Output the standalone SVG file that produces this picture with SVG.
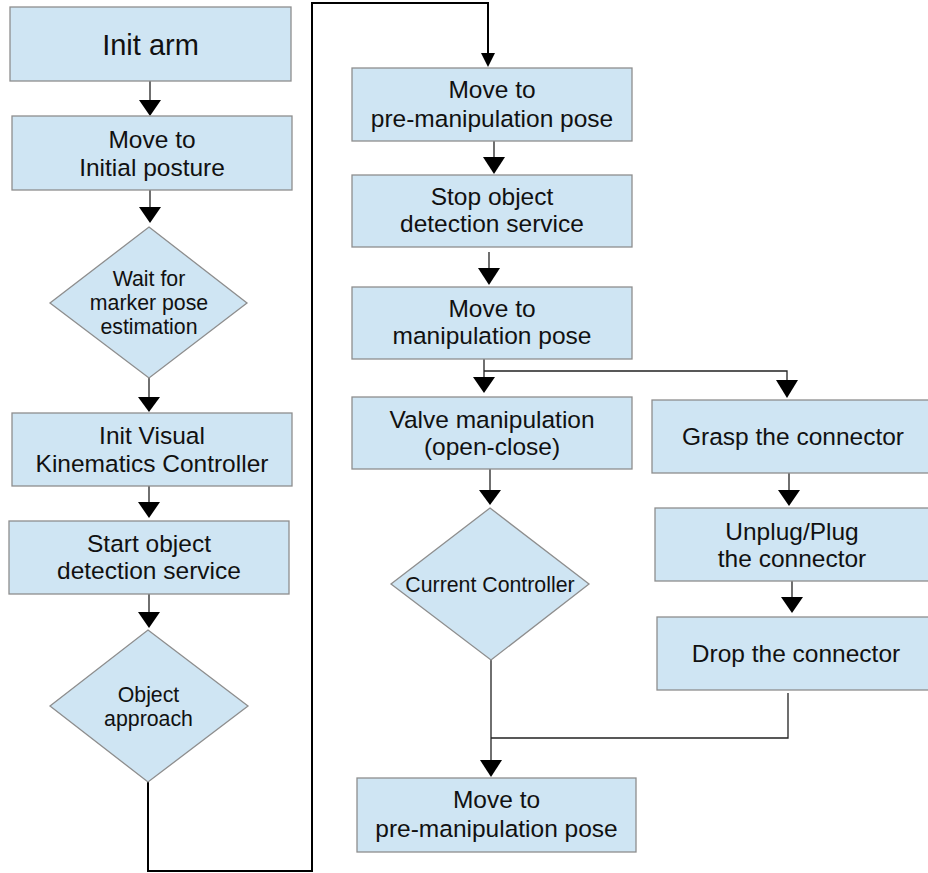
<svg xmlns="http://www.w3.org/2000/svg" width="928" height="873" viewBox="0 0 928 873">
<defs>
<style>
.box{fill:#cfe5f3;stroke:#8e8e8e;stroke-width:1.3}
.t{font-family:"Liberation Sans",Arial,sans-serif;font-size:24.5px;fill:#111;text-anchor:middle}
.d{font-family:"Liberation Sans",Arial,sans-serif;font-size:21.3px;fill:#111;text-anchor:middle}
.big{font-size:29px}
.ln{fill:none;stroke:#222;stroke-width:1.3}
.loop{fill:none;stroke:#000;stroke-width:2}
.ah{fill:#000}
</style>
</defs>
<rect width="928" height="873" fill="#fff"/>

<g id="connectors">
<!-- left column -->
<line class="ln" x1="150" y1="81" x2="150" y2="101"/>
<polygon class="ah" points="139,100 161,100 150,116"/>
<line class="ln" x1="150" y1="190" x2="150" y2="208"/>
<polygon class="ah" points="139,207 161,207 150,223"/>
<line class="ln" x1="149" y1="378" x2="149" y2="398"/>
<polygon class="ah" points="138,397 160,397 149,412"/>
<line class="ln" x1="149" y1="486" x2="149" y2="503"/>
<polygon class="ah" points="138,502 160,502 149,518"/>
<line class="ln" x1="149" y1="594" x2="149" y2="613"/>
<polygon class="ah" points="138,612 160,612 149,628"/>
<!-- loop -->
<polyline class="loop" points="148,782 148,871 312,871 312,3 488,3 488,54"/>
<polygon class="ah" points="481,53 495,53 488,67"/>
<!-- right column -->
<line class="ln" x1="494" y1="141" x2="494" y2="158"/>
<polygon class="ah" points="483,157 505,157 494,174"/>
<line class="ln" x1="489" y1="252" x2="489" y2="269"/>
<polygon class="ah" points="478,268 500,268 489,285"/>
<polyline class="ln" points="484,359 484,378"/>
<polygon class="ah" points="473,377 495,377 484,393"/>
<polyline class="ln" points="484,371 787,371 787,381"/>
<polygon class="ah" points="776,380 798,380 787,398"/>
<line class="ln" x1="490" y1="469" x2="490" y2="491"/>
<polygon class="ah" points="479,490 501,490 490,505"/>
<line class="ln" x1="789" y1="473" x2="789" y2="491"/>
<polygon class="ah" points="778,490 800,490 789,506"/>
<line class="ln" x1="792" y1="581" x2="792" y2="598"/>
<polygon class="ah" points="781,597 803,597 792,613"/>
<polyline class="ln" points="788,693 788,738 491,738"/>
<line class="ln" x1="491" y1="660" x2="491" y2="761"/>
<polygon class="ah" points="480,760 502,760 491,777"/>
</g>

<g id="n-init-arm">
<rect class="box" x="10" y="7" width="281" height="74"/>
<text class="t big" x="150.5" y="55">Init arm</text>
</g>
<g id="n-initial-posture">
<rect class="box" x="12" y="116" width="280" height="74"/>
<text class="t" x="152" y="148">Move to</text>
<text class="t" x="152" y="176">Initial posture</text>
</g>
<g id="n-wait-marker">
<polygon class="box" points="149,227 247,303 149,378 50,303"/>
<text class="d" x="149" y="286">Wait for</text>
<text class="d" x="149" y="310">marker pose</text>
<text class="d" x="149" y="334">estimation</text>
</g>
<g id="n-init-visual">
<rect class="box" x="12" y="413" width="280" height="73"/>
<text class="t" x="152" y="444">Init Visual</text>
<text class="t" x="152" y="472">Kinematics Controller</text>
</g>
<g id="n-start-detection">
<rect class="box" x="9" y="521" width="280" height="73"/>
<text class="t" x="149" y="552">Start object</text>
<text class="t" x="149" y="579">detection service</text>
</g>
<g id="n-object-approach">
<polygon class="box" points="148,630 248,706 148,782 50,706"/>
<text class="d" x="148.5" y="702">Object</text>
<text class="d" x="148.5" y="726">approach</text>
</g>

<g id="n-pre-manip-1">
<rect class="box" x="352" y="68" width="280" height="73"/>
<text class="t" x="492" y="98">Move to</text>
<text class="t" x="492" y="127">pre-manipulation pose</text>
</g>
<g id="n-stop-detection">
<rect class="box" x="352" y="175" width="280" height="72"/>
<text class="t" x="492" y="205">Stop object</text>
<text class="t" x="492" y="232">detection service</text>
</g>
<g id="n-manip-pose">
<rect class="box" x="352" y="287" width="280" height="72"/>
<text class="t" x="492" y="317">Move to</text>
<text class="t" x="492" y="344">manipulation pose</text>
</g>
<g id="n-valve">
<rect class="box" x="352" y="397" width="280" height="72"/>
<text class="t" x="492" y="428">Valve manipulation</text>
<text class="t" x="492" y="455">(open-close)</text>
</g>
<g id="n-current-controller">
<polygon class="box" points="490,508 589,584 491,660 391,584"/>
<text class="d" x="490" y="592">Current Controller</text>
</g>
<g id="n-grasp">
<rect class="box" x="652" y="400" width="282" height="73"/>
<text class="t" x="793" y="445">Grasp the connector</text>
</g>
<g id="n-unplug">
<rect class="box" x="655" y="508" width="279" height="73"/>
<text class="t" x="792" y="540">Unplug/Plug</text>
<text class="t" x="792" y="567">the connector</text>
</g>
<g id="n-drop">
<rect class="box" x="657" y="617" width="278" height="73"/>
<text class="t" x="796" y="662">Drop the connector</text>
</g>
<g id="n-pre-manip-2">
<rect class="box" x="357" y="778" width="279" height="74"/>
<text class="t" x="496.5" y="808">Move to</text>
<text class="t" x="496.5" y="837">pre-manipulation pose</text>
</g>
</svg>
